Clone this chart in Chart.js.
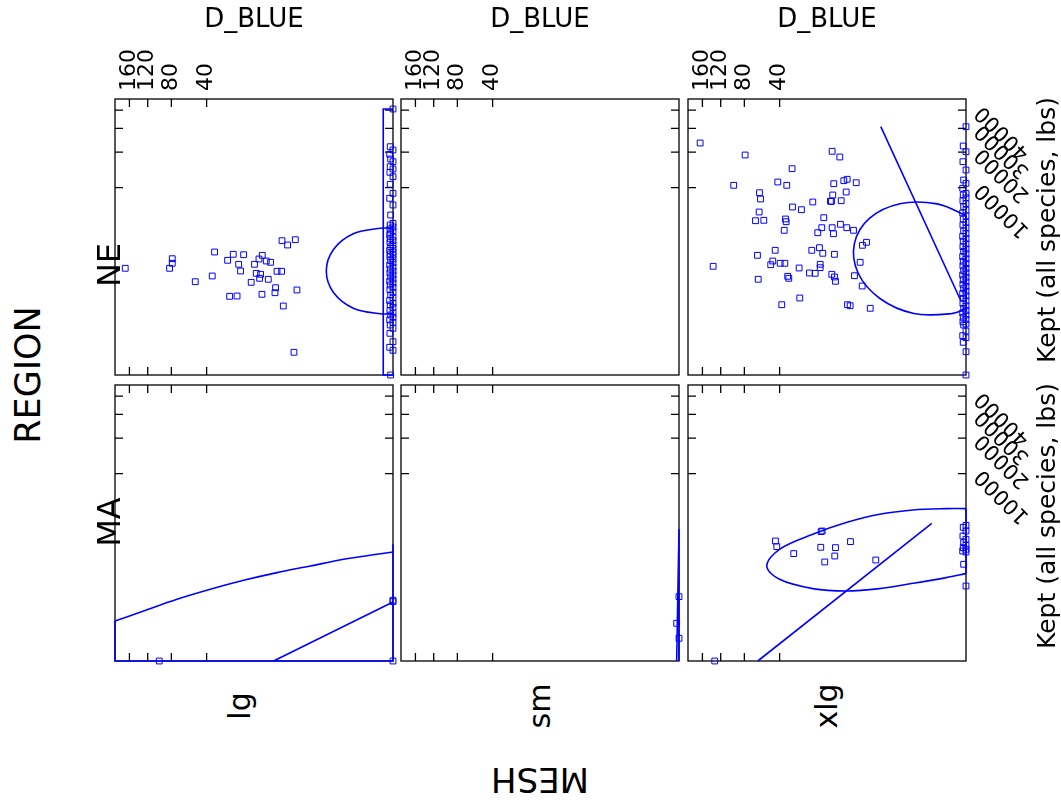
<!DOCTYPE html>
<html>
<head>
<meta charset="utf-8">
<script src="https://cdn.jsdelivr.net/npm/chart.js@4.4.0/dist/chart.umd.min.js"></script>
<style>
  body { margin: 0; background: #fff; }
  #page { position: relative; width: 1061px; height: 809px; overflow: hidden; font-family: 'DejaVu Sans', sans-serif; }
  #page canvas { position: absolute; }
  .lbl { position: absolute; white-space: nowrap; line-height: 1; color: #000; }
</style>
</head>
<body>
<div id="page"></div>
<script>
// ---- data: Kept vs D_BLUE by REGION x MESH ----
const meshLevels = ['lg', 'sm', 'xlg'];
const regionLevels = ['NE', 'MA'];
const xTicks = [40, 80, 120, 160];
const yTicks = [10000, 20000, 30000, 40000];
const xMax = 198;
const yMax = 47100;

// NE / lg
const neLgPoints = [[170.4,1052],[78.7,1485],[78.7,1264],[82.6,1052],[33.6,1858],[50.7,615],[35.4,780],[24.8,1405],[21.6,1722],[16.5,1700],[18.8,1219],[17.9,949],[23.6,311],[19.6,316],[12.2,1219],[10.7,1470],[9.68,1666],[8.55,1371],[7.45,1309],[11.6,868],[10.2,835],[10.5,710],[8.02,681],[13.4,599],[6.0,939],[5.1,939],[6.3,471],[6.43,372],[9.77,344],[2.82,424],[4.8,184],[5.03,2641],[4.09,2318],[3.02,2720],[3.19,2.16]];
const neLgEdge = [[0,40640],[0.000002,22050],[0,20800],[0.000004,19260],[0.000001,17670],[0,16800],[0.000002,15280],[0,14620],[0.000003,13700],[0,12550],[0.000002,10735],[0,8846],[0.000004,7912],[0,6779],[0.000001,5319],[0,4298],[0.000002,4109],[0,3900],[0.000003,3700],[0,3500],[0.000001,3300],[0.000004,3118],[0,2950],[0.000002,2800],[0,2650],[0.000003,2500],[0,2318],[0.000001,2200],[0,2080],[0.000004,1960],[0,1850],[0.000002,1740],[0,1683],[0.000003,1580],[0,1480],[0.000001,1390],[0,1300],[0.000004,1188],[0,1100],[0.000002,1020],[0,950],[0.000003,880],[0,812],[0.000001,750],[0,690],[0.000004,630],[0,580],[0.000002,532],[0,480],[0.000003,430],[0,380],[0.000001,332],[0,290],[0.000004,250],[0,215],[0.000002,195],[0,170],[0.000003,140],[0,120],[0.000001,105],[0,90],[0.000004,75],[0,62],[0.000002,50.7],[0,38.6],[0.000003,24.5],[0,9.98],[0.000004,4.78],[0,3.02],[0.000001,0]];
const neLgEllipse = [[0,3759],[0.00086,3759],[0.0824,3227],[0.416,2014],[0.656,949],[0.416,376],[0.0824,161.7],[0.00086,114.6],[0,114.6]];
const neLgFit = [[0,40640],[0.0003,40640],[0.0003,0],[0,0]];

// NE / xlg
const neXlgPoints = [[165.6,23510],[78.9,19014],[96.5,10510],[10.64,20330],[8.41,18330],[30.3,14710],[41.6,11260],[34.2,10510],[10.13,10870],[7.39,11570],[6.61,11910],[4.82,11100],[60.3,8964],[59.1,7788],[10.45,8521],[6.83,9103],[11.19,7389],[10.86,7389],[8.04,7491],[18.27,7271],[30.06,6466],[24.29,6060],[60.7,5730],[65.1,4601],[55.4,4649],[35.2,4807],[34.7,4482],[13.56,4970],[36.2,3558],[16.0,3328],[14.34,3821],[10.64,3821],[10.22,3235],[8.23,4187],[6.70,3821],[5.31,3558],[3.81,2297],[3.25,2517],[15.28,2132],[18.76,1963],[13.95,1781],[9.92,1722],[43.96,1963],[62.7,1666],[46.2,1371],[48.2,1201],[39.5,1264],[35.7,1264],[25.7,1064],[14.99,1219],[14.99,1076],[19.9,878],[17.15,868],[4.16,1309],[135.5,1133],[218.2,975],[61.8,681],[33.5,770],[32.7,710],[10.76,835],[9.92,749],[9.62,626],[5.13,789],[3.85,509],[25.3,285],[38.2,198],[6.54,198],[5.97,187],[2.79,160.7]];
const neXlgEdge = [[0,30853],[0.000002,22320],[0,20181],[0.000003,16800],[0,14335],[0.000001,11735],[0,10960],[0.000004,9861],[0,8846],[0.000002,8521],[0,8000],[0.000003,7500],[0,7000],[0.000001,6500],[0,6000],[0.000004,5600],[0,5200],[0.000002,4800],[0,4400],[0.000003,4109],[0,3800],[0.000001,3500],[0,3250],[0.000004,3000],[0,2800],[0.000002,2600],[0,2400],[0.000003,2200],[0,2050],[0.000001,1900],[0,1750],[0.000004,1600],[0,1480],[0.000002,1360],[0,1250],[0.000003,1150],[0,1050],[0.000001,960],[0,880],[0.000004,812],[0,740],[0.000002,670],[0,610],[0.000003,550],[0,500],[0.000001,450],[0,400],[0.000004,360],[0,320],[0.000002,280],[0,245],[0.000003,215],[0,185],[0.000001,160],[0,140],[0.000004,120],[0,105],[0.000002,90],[0,77],[0.000003,65],[0,55],[0.000001,50.7],[0,30.4],[0.000004,19.4],[0,15.7],[0.000002,9.28],[0,2.39],[0,0]];
const neXlgEllipse = [[0,5267],[0.0228,6957],[0.629,6989],[2.853,4906],[5.144,2420],[4.495,878],[1.823,278],[0.2444,116.2],[0.00168,114.6],[0,155.8]];
const neXlgEllipseEdge = [[0,155.8],[0,5267]];
const neXlgFit = [[1.748,30853],[0.00003,256.8]];

// MA / lg
const maLgPoints = [[98.96,0],[0,110.2],[0,101],[0,0]];
const maLgEllipse = [[198,20.78],[128.3,50.7],[72.2,117.6],[36.96,214.5],[16.5,344],[6.0,495.6],[1.551,661],[0.1975,868],[0.00217,1052],[0,1146]];
const maLgEllipseEdge = [[198,20.78],[198,0],[0,0],[0,1505]];
const maLgFit = [[6.74,0],[0,98.3]];

// MA / sm
const maSmPoints = [[0,139.6],[0.000001,16.4],[0,2.16]];
const maSmFit = [[0.000001,0],[0,2442],[0,0]];

// MA / xlg
const maXlgPoints = [[43.7,1683],[42.5,1390],[29.2,1080],[14.6,2276],[14.2,2318],[14.75,1357],[9.62,1342],[9.83,986],[13.19,780],[5.90,1649],[2.195,844.6],[132.1,0]];
const maXlgEdge = [[0,2752],[0.000002,2593],[0,2318],[0.000003,1982],[0,1781],[0.000001,1595],[0,1455],[0.000002,1342],[0,1264],[0.000004,1188],[0,1146],[0.000001,710],[0,256.8]];
const maXlgEllipse = [[0,4378],[0.0051,4378],[0.2656,4220],[1.857,3759],[6.83,2978],[18.27,2092],[40.1,1264],[52.2,661],[40.1,361.7],[18.27,223],[6.83,195],[1.857,223],[0.2656,295.8],[0.0051,392.8],[0,473.6]];
const maXlgEllipseEdge = [[0,473.6],[0,4378]];
const maXlgFit = [[62.3,0],[0.04537,2918]];

// ---- fourth-root axis (sign kept so tiny negatives stay ordered) ----
class FourthRootScale extends Chart.LinearScale {
  static id = 'root4';
  static defaults = {};
  _root(v) { return Math.sign(v) * Math.pow(Math.abs(v), 0.25); }
  configure() {
    super.configure();
    this._rMin = this._root(this.min);
    this._rMax = this._root(this.max);
  }
  getPixelForValue(value) {
    if (value === null || value === undefined) return NaN;
    return this.getPixelForDecimal((this._root(value) - this._rMin) / (this._rMax - this._rMin));
  }
  getValueForPixel(pixel) {
    const r = this._rMin + this.getDecimalForPixel(pixel) * (this._rMax - this._rMin);
    return Math.sign(r) * Math.pow(Math.abs(r), 4);
  }
}
Chart.register(FourthRootScale);

const BLUE = '#0000ff';
const FONT = '"DejaVu Sans", sans-serif';
const panelLeft = [115, 401, 688];
const panelTop = [99, 385];
const panelW = 278, panelH = 276;

// panel box, inward ticks on all four sides, and outer tick labels
const latticeFrame = {
  id: 'latticeFrame',
  beforeDatasetsDraw(chart, args, opts) {
    const { ctx, chartArea: a, scales: { x, y } } = chart;
    const tl = 8;
    ctx.save();
    ctx.strokeStyle = '#000';
    ctx.lineWidth = 1.3;
    ctx.strokeRect(a.left, a.top, a.width, a.height);
    ctx.beginPath();
    x.ticks.forEach(t => {
      const px = x.getPixelForValue(t.value);
      ctx.moveTo(px, a.top); ctx.lineTo(px, a.top + tl);
      ctx.moveTo(px, a.bottom); ctx.lineTo(px, a.bottom - tl);
    });
    y.ticks.forEach(t => {
      const py = y.getPixelForValue(t.value);
      ctx.moveTo(a.left, py); ctx.lineTo(a.left + tl, py);
      ctx.moveTo(a.right, py); ctx.lineTo(a.right - tl, py);
    });
    ctx.stroke();
    ctx.fillStyle = '#000';
    ctx.font = '22px ' + FONT;
    ctx.textBaseline = 'middle';
    if (opts.topLabels) {
      x.ticks.forEach(t => {
        ctx.save();
        ctx.translate(x.getPixelForValue(t.value), a.top - 8);
        ctx.rotate(-Math.PI / 2);
        ctx.textAlign = 'left';
        ctx.fillText(t.label, 0, 0);
        ctx.restore();
      });
    }
    if (opts.rightLabels) {
      ctx.font = '21px ' + FONT;
      y.ticks.forEach(t => {
        ctx.save();
        ctx.translate(a.right + 13, y.getPixelForValue(t.value) - 1);
        ctx.rotate(Math.PI * 1.25);
        ctx.textAlign = 'right';
        ctx.fillText(t.label, 0, 0);
        ctx.restore();
      });
    }
    ctx.restore();
  }
};

const toXY = pairs => pairs.map(([x, y]) => ({ x, y }));

function pointSet(pairs) {
  return {
    data: toXY(pairs), showLine: false, clip: false,
    pointStyle: 'rect', pointRadius: 4.1, pointBorderWidth: 1,
    pointBorderColor: BLUE, pointBackgroundColor: 'rgba(0,0,0,0)'
  };
}

function lineSet(pairs, tension, mode) {
  return {
    data: toXY(pairs), showLine: true, clip: false, fill: false,
    borderColor: BLUE, borderWidth: 1.6, pointRadius: 0,
    tension: tension || 0, cubicInterpolationMode: mode || 'default'
  };
}

const page = document.getElementById('page');

function makePanel(row, col, datasets) {
  const pad = { top: row === 0 ? 70 : 14, right: col === 2 ? 75 : 14, bottom: 14, left: 14 };
  const w = panelW + pad.left + pad.right;
  const h = panelH + pad.top + pad.bottom;
  const cv = document.createElement('canvas');
  cv.width = w; cv.height = h;
  cv.style.width = w + 'px'; cv.style.height = h + 'px';
  cv.style.left = (panelLeft[col] - pad.left) + 'px';
  cv.style.top = (panelTop[row] - pad.top) + 'px';
  page.appendChild(cv);
  new Chart(cv, {
    type: 'scatter',
    data: { datasets },
    options: {
      responsive: false, animation: false, events: [],
      layout: { padding: pad },
      plugins: {
        legend: { display: false }, tooltip: { enabled: false },
        latticeFrame: { topLabels: row === 0, rightLabels: col === 2 }
      },
      scales: {
        x: {
          type: 'root4', reverse: true, min: 0, max: xMax, display: false,
          ticks: { callback: v => String(v) },
          afterBuildTicks: s => { s.ticks = xTicks.map(value => ({ value })); }
        },
        y: {
          type: 'root4', min: 0, max: yMax, display: false,
          ticks: { callback: v => String(v) },
          afterBuildTicks: s => { s.ticks = yTicks.map(value => ({ value })); }
        }
      }
    },
    plugins: [latticeFrame]
  });
}

makePanel(0, 0, [lineSet(neLgFit), lineSet(neLgEllipse, 0.35), pointSet(neLgPoints), pointSet(neLgEdge)]);
makePanel(0, 1, []);
makePanel(0, 2, [lineSet(neXlgFit), lineSet(neXlgEllipse, 0.35), lineSet(neXlgEllipseEdge), pointSet(neXlgPoints), pointSet(neXlgEdge)]);
makePanel(1, 0, [lineSet(maLgEllipse, 0, 'monotone'), lineSet(maLgEllipseEdge), lineSet(maLgFit), pointSet(maLgPoints)]);
makePanel(1, 1, [lineSet(maSmFit), pointSet(maSmPoints)]);
makePanel(1, 2, [lineSet(maXlgEllipse, 0.35), lineSet(maXlgEllipseEdge), lineSet(maXlgFit), pointSet(maXlgPoints), pointSet(maXlgEdge)]);

// ---- strip and axis texts ----
function addText(txt, cx, cy, size, rot) {
  const d = document.createElement('div');
  d.className = 'lbl';
  d.textContent = txt;
  d.style.left = cx + 'px';
  d.style.top = cy + 'px';
  d.style.fontSize = size + 'px';
  d.style.transform = `translate(-50%, -50%) rotate(${rot}deg)`;
  page.appendChild(d);
}

const meshLabelX = [240, 540, 827];
const regionLabelY = [265, 522];
meshLevels.forEach((m, i) => {
  addText('D_BLUE', panelLeft[i] + panelW / 2, 18, 26, 0);
  addText(m, meshLabelX[i], 706, 30, -90);
});
regionLevels.forEach((r, i) => {
  addText(r, 109, regionLabelY[i], 32, -90);
  addText('Kept (all species, lbs)', 1046, panelTop[i] + panelH / 2 - 7, 25, -90);
});
addText('REGION', 28, 375, 35, -90);
addText('MESH', 540, 780, 34, 180);
</script>
</body>
</html>
